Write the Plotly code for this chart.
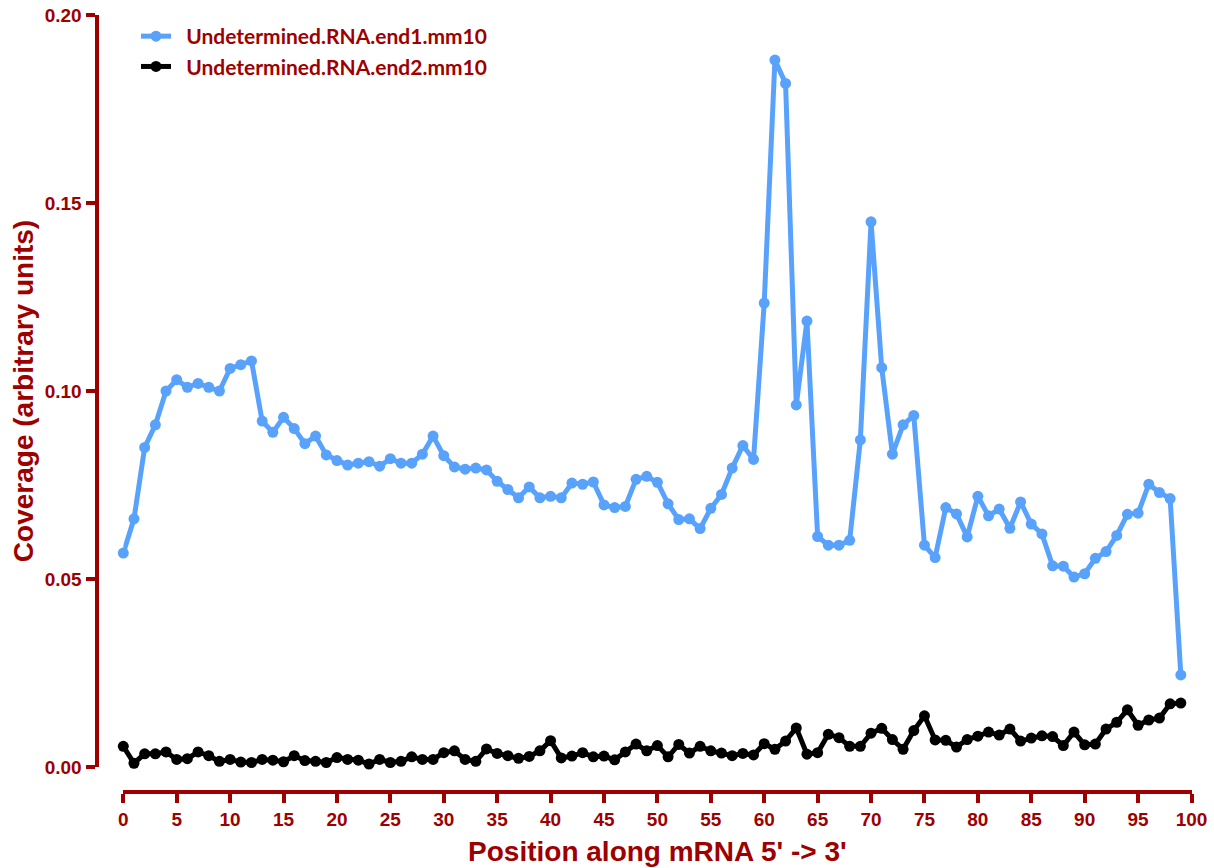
import plotly.graph_objects as go

# Positions along the transcript (percent of length, binned)
positions = list(range(100))

# Normalised coverage for read end 1
end1_coverage = [
    0.0569, 0.0660, 0.0850, 0.0910, 0.1000, 0.1030, 0.1010, 0.1020, 0.1010, 0.1000,
    0.1060, 0.1070, 0.1080, 0.0920, 0.0890, 0.0930, 0.0900, 0.0860, 0.0880, 0.0830,
    0.0815, 0.0803, 0.0808, 0.0812, 0.0800, 0.0820, 0.0808, 0.0808, 0.0832, 0.0880,
    0.0828, 0.0798, 0.0792, 0.0795, 0.0790, 0.0760, 0.0738, 0.0716, 0.0745, 0.0716,
    0.0720, 0.0716, 0.0755, 0.0752, 0.0758, 0.0697, 0.0690, 0.0693, 0.0765, 0.0773,
    0.0757, 0.0700, 0.0658, 0.0660, 0.0634, 0.0688, 0.0725, 0.0795, 0.0855, 0.0818,
    0.1234, 0.1880, 0.1818, 0.0963, 0.1186, 0.0613, 0.0590, 0.0590, 0.0603, 0.0870,
    0.1450, 0.1062, 0.0832, 0.0910, 0.0935, 0.0590, 0.0557, 0.0690, 0.0673, 0.0612,
    0.0720, 0.0668, 0.0686, 0.0635, 0.0705, 0.0646, 0.0620, 0.0535, 0.0534, 0.0505,
    0.0514, 0.0555, 0.0573, 0.0616, 0.0672, 0.0675, 0.0752, 0.0730, 0.0714, 0.0245,
]

# Normalised coverage for read end 2
end2_coverage = [
    0.0055, 0.0010, 0.0035, 0.0035, 0.0040, 0.0020, 0.0022, 0.0040, 0.0030, 0.0015,
    0.0020, 0.0013, 0.0012, 0.0020, 0.0018, 0.0014, 0.0030, 0.0017, 0.0015, 0.0012,
    0.0025, 0.0020, 0.0018, 0.0008, 0.0020, 0.0012, 0.0015, 0.0027, 0.0020, 0.0020,
    0.0038, 0.0043, 0.0020, 0.0015, 0.0048, 0.0036, 0.0030, 0.0023, 0.0028, 0.0043,
    0.0070, 0.0024, 0.0029, 0.0038, 0.0027, 0.0029, 0.0019, 0.0040, 0.0061, 0.0043,
    0.0057, 0.0027, 0.0060, 0.0037, 0.0055, 0.0043, 0.0037, 0.0030, 0.0036, 0.0032,
    0.0062, 0.0047, 0.0069, 0.0104, 0.0034, 0.0038, 0.0087, 0.0078, 0.0055, 0.0055,
    0.0090, 0.0103, 0.0073, 0.0047, 0.0097, 0.0136, 0.0072, 0.0071, 0.0053, 0.0073,
    0.0082, 0.0093, 0.0085, 0.0101, 0.0069, 0.0077, 0.0083, 0.0081, 0.0057, 0.0093,
    0.0059, 0.0061, 0.0101, 0.0119, 0.0152, 0.0111, 0.0125, 0.0130, 0.0168, 0.0170,
]

series_names = ["Undetermined.RNA.end1.mm10", "Undetermined.RNA.end2.mm10"]
x_ticks = list(range(0, 101, 5))
y_ticks = [0.0, 0.05, 0.10, 0.15, 0.20]

DARK_RED = "#9E0000"
BLUE = "#58A2FC"
W, H = 1214, 868
LEGEND_GAP = "\u00a0\u00a0"  # extra space between legend symbol and label

fig = go.Figure()
for name, values, color in [
    (series_names[0], end1_coverage, BLUE),
    (series_names[1], end2_coverage, "#000000"),
]:
    fig.add_trace(go.Scatter(
        x=positions, y=values, name=LEGEND_GAP + name, mode="lines+markers",
        line=dict(color=color, width=5),
        marker=dict(color=color, size=11),
        cliponaxis=False,
    ))

axis_font = dict(family="Liberation Sans, Arial", size=19, color=DARK_RED, weight="bold")
title_font = dict(family="Liberation Sans, Arial", size=28, color=DARK_RED, weight="bold")

fig.update_layout(
    width=W, height=H,
    autosize=False,
    margin=dict(l=0, r=0, t=0, b=0, pad=0, autoexpand=False),
    paper_bgcolor="white", plot_bgcolor="white",
    showlegend=True,
    legend=dict(
        x=136 / W, y=1 - 16 / H, xanchor="left", yanchor="top",
        font=dict(family="Lato, Open Sans", size=21, color=DARK_RED, weight="bold"),
        bgcolor="rgba(0,0,0,0)", itemwidth=30, tracegroupgap=0,
    ),
    xaxis=dict(
        domain=[123.3 / W, 1191.5 / W],
        anchor="free", position=1 - 792 / H,
        range=[0, 100], tickvals=x_ticks,
        showline=True, linecolor=DARK_RED, linewidth=4,
        ticks="outside", ticklen=9, tickwidth=4, tickcolor=DARK_RED,
        tickfont=axis_font, showgrid=False, zeroline=False, automargin=False,
        title=dict(text="Position along mRNA 5' -> 3'", font=title_font, standoff=12),
    ),
    yaxis=dict(
        domain=[1 - 767 / H, 1 - 15 / H],
        anchor="free", position=96.5 / W,
        range=[0, 0.2], tickvals=y_ticks, tickformat=".2f",
        showline=True, linecolor=DARK_RED, linewidth=4,
        ticks="outside", ticklen=9, tickwidth=4, tickcolor=DARK_RED,
        tickfont=axis_font, showgrid=False, zeroline=False, automargin=False,
        title=dict(text="Coverage (arbitrary units)", font=title_font, standoff=2),
    ),
)

fig.write_html("out.html")
